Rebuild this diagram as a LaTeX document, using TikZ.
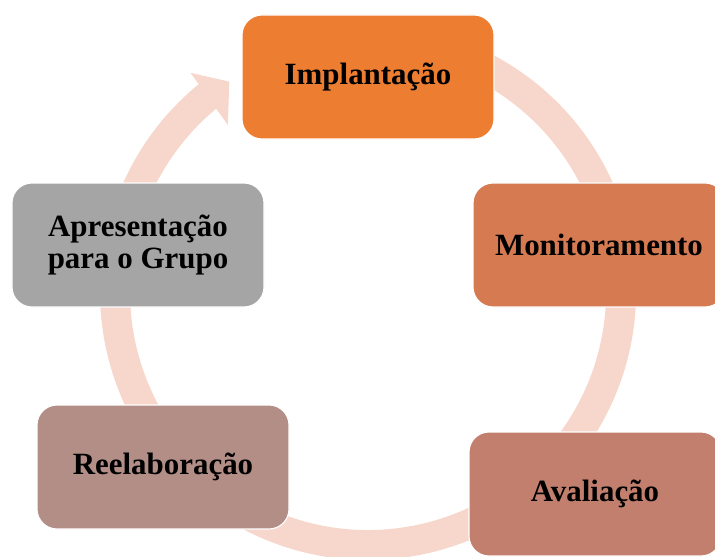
\documentclass[tikz,border=0pt]{standalone}
\usepackage{fontspec}
\setmainfont{Liberation Serif}
\usetikzlibrary{positioning}
\definecolor{ringpink}{HTML}{F7D6CB}
\definecolor{implorange}{HTML}{ED7D31}
\definecolor{monitorange}{HTML}{D67A52}
\definecolor{avalbrown}{HTML}{C27F6E}
\definecolor{reelabbrown}{HTML}{B38E87}
\definecolor{apresgray}{HTML}{A5A5A5}

\begin{document}
\begin{tikzpicture}[
    stagebox/.style={draw=white, line width=0.8pt, rounded corners=0.5cm, minimum width=6.3cm, minimum height=3.1cm, align=center, font=\fontsize{22}{23}\selectfont\bfseries},
    ring/.style={ringpink, line width=0.75cm},
]
\clip (0,0) rectangle (17.875,13.9);
\useasboundingbox (0,0) rectangle (17.875,13.9);

% Circular arrow behind the stages
\coordinate (c) at (9.2,6.6);
\draw[ring] (c) ++(100:6.325) arc[start angle=100, end angle=-233, radius=6.325];
\fill[ringpink, shift={(c)}] (130:5.45) -- (123.4:6.3) -- (129:7.05) -- cycle;

% Stages
\node[stagebox, fill=implorange] (impl) at (9.2,11.975) {Implantação};
\node[stagebox, fill=monitorange] (monit) at (14.975,7.775) {Monitoramento};
\node[stagebox, fill=avalbrown] (aval) at (14.875,1.55) {Avaliação};
\node[stagebox, fill=reelabbrown] (reelab) at (4.075,2.225) {Reelaboração};
\node[stagebox, fill=apresgray] (apres) at (3.45,7.775) {Apresentação\\para o Grupo};
\end{tikzpicture}
\end{document}
